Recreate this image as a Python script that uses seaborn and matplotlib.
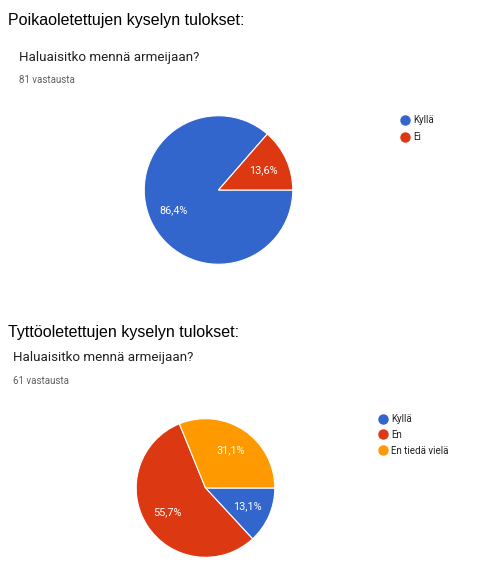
import matplotlib
matplotlib.use("Agg")
import matplotlib.pyplot as plt
import seaborn as sns
from matplotlib.lines import Line2D

sns.set_theme(style="white")
plt.rcParams['font.family'] = ['Roboto', 'DejaVu Sans']

# Data
boys_labels = ["Kyllä", "Ei"]
boys_counts = [70, 11]
girls_labels = ["Kyllä", "En", "En tiedä vielä"]
girls_counts = [8, 34, 19]

boys_title = "Poikaoletettujen kyselyn tulokset:"
girls_title = "Tyttöoletettujen kyselyn tulokset:"
question = "Haluaisitko mennä armeijaan?"
boys_n = "81 vastausta"
girls_n = "61 vastausta"

palette = sns.color_palette(["#3366CC", "#DC3912", "#FF9900"])

W, H = 485, 574
fig = plt.figure(figsize=(W / 100, H / 100), dpi=100)
fig.patch.set_facecolor("white")


def px_axes(cx, cy, r):
    return fig.add_axes([(cx - r) / W, (H - cy - r) / H, 2 * r / W, 2 * r / H])


def fmt(p):
    return f"{p:.1f}%".replace(".", ",")


def draw_pie(ax, counts, colors):
    wedges, _, autotexts = ax.pie(
        counts, colors=colors, startangle=0, counterclock=False,
        autopct=fmt, pctdistance=0.66, radius=1.0,
        wedgeprops=dict(edgecolor="white", linewidth=0.8),
        textprops=dict(color="white", fontsize=7.8, family=["Roboto", "DejaVu Sans"]))
    ax.set_xlim(-1.01, 1.01)
    ax.set_ylim(-1.01, 1.01)
    ax.set_aspect("equal")
    ax.axis("off")
    return wedges


def legend(labels, colors, x, y, spacing):
    handles = [Line2D([0], [0], marker="o", linestyle="", markersize=6.5,
                      markerfacecolor=c, markeredgecolor=c) for c in colors]
    fig.legend(handles, labels, loc="upper left",
               bbox_to_anchor=(x / W, 1 - y / H), frameon=False,
               fontsize=7, handletextpad=0.15, labelspacing=spacing,
               handlelength=1.4, borderaxespad=0, borderpad=0,
               labelcolor="#212121")


# Top section
fig.text(8 / W, 1 - 20 / H, boys_title, fontsize=11.5, va="center",
         family=["Liberation Sans", "DejaVu Sans"], color="black")
fig.text(19 / W, 1 - 58 / H, question, fontsize=9.6, va="center", color="#212121")
fig.text(19 / W, 1 - 80 / H, boys_n, fontsize=7, va="center", color="#5f5f5f")
ax1 = px_axes(218.5, 190, 75)
draw_pie(ax1, boys_counts, palette[:2])
legend(boys_labels, palette[:2], 398, 115, 0.75)

# Bottom section
fig.text(8 / W, 1 - 332 / H, girls_title, fontsize=11.5, va="center",
         family=["Liberation Sans", "DejaVu Sans"], color="black")
fig.text(13 / W, 1 - 358 / H, question, fontsize=9.6, va="center", color="#212121")
fig.text(13 / W, 1 - 381 / H, girls_n, fontsize=7, va="center", color="#5f5f5f")
ax2 = px_axes(205.5, 488, 70)
draw_pie(ax2, girls_counts, palette[:3])
legend(girls_labels, palette[:3], 376, 414, 0.6)

fig.savefig("out.png", dpi=100, facecolor="white")
